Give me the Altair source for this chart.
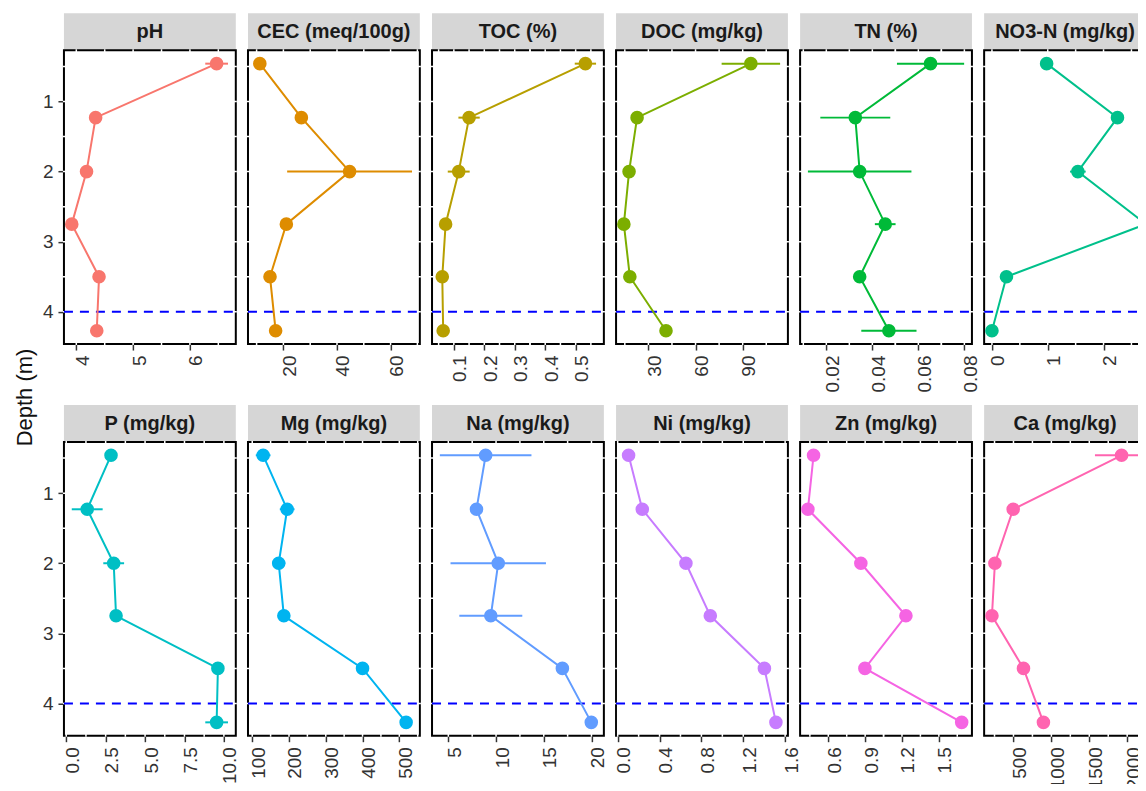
import altair as alt
import pandas as pd

# ---------------- data ----------------
DEPTH = [0.46, 1.23, 2.0, 2.75, 3.5, 4.27]
THRESHOLD_DEPTH = [4.0]
Y_TICKS = [1, 2, 3, 4]

NAMES = ["pH", "CEC (meq/100g)", "TOC (%)", "DOC (mg/kg)", "TN (%)", "NO3-N (mg/kg)",
         "P (mg/kg)", "Mg (mg/kg)", "Na (mg/kg)", "Ni (mg/kg)", "Zn (mg/kg)", "Ca (mg/kg)"]
COLORS = ["#F8766D", "#DE8C00", "#B79F00", "#7CAE00", "#00BA38", "#00C08B",
          "#00BFC4", "#00B4F0", "#619CFF", "#C77CFF", "#F564E3", "#FF64B0"]

PH_MEAN = [6.47, 4.34, 4.18, 3.92, 4.40, 4.36]
PH_SD = [0.20, 0, 0, 0, 0, 0]
PH_TICKS = [4, 5, 6]

CEC_MEAN = [11.2, 26.7, 44.7, 21.1, 15.0, 17.1]
CEC_SD = [1.5, 0, 23.3, 0, 0, 0]
CEC_TICKS = [20, 40, 60]

TOC_MEAN = [0.532, 0.150, 0.116, 0.073, 0.062, 0.065]
TOC_SD = [0.035, 0.035, 0.036, 0, 0.008, 0]
TOC_TICKS = [0.1, 0.2, 0.3, 0.4, 0.5]

DOC_MEAN = [95.2, 22.8, 17.7, 14.4, 18.2, 41.2]
DOC_SD = [18.6, 0, 0, 0, 0, 0]
DOC_TICKS = [30, 60, 90]

TN_MEAN = [0.0653, 0.0326, 0.0345, 0.0456, 0.0345, 0.0472]
TN_SD = [0.0146, 0.0152, 0.0225, 0.0045, 0, 0.012]
TN_TICKS = [0.02, 0.04, 0.06, 0.08]

NO3_MEAN = [0.98, 2.25, 1.54, 2.76, 0.26, 0.0]
NO3_SD = [0, 0, 0.14, 0.04, 0, 0]
NO3_TICKS = [0, 1, 2, 3]

P_MEAN = [2.84, 1.33, 3.01, 3.16, 9.62, 9.54]
P_SD = [0, 0.98, 0.66, 0, 0, 0.72]
P_TICKS = [0, 2.5, 5, 7.5, 10]

MG_MEAN = [129.7, 195, 172, 186, 400, 518.6]
MG_SD = [20, 20, 18, 0, 0, 16]
MG_TICKS = [100, 200, 300, 400, 500]

NA_MEAN = [8.91, 7.95, 10.23, 9.45, 16.95, 19.98]
NA_SD = [4.8, 0, 5.0, 3.3, 0, 0.5]
NA_TICKS = [5, 10, 15, 20]

NI_MEAN = [0.104, 0.235, 0.652, 0.885, 1.402, 1.512]
NI_SD = [0.045, 0, 0, 0, 0, 0.04]
NI_TICKS = [0.0, 0.4, 0.8, 1.2, 1.6]

ZN_MEAN = [0.480, 0.434, 0.865, 1.232, 0.898, 1.686]
ZN_SD = [0.03, 0, 0, 0, 0, 0.02]
ZN_TICKS = [0.6, 0.9, 1.2, 1.5]

CA_MEAN = [1926, 496, 255, 216, 632, 895]
CA_SD = [351, 0, 0, 0, 0, 0]
CA_TICKS = [500, 1000, 1500, 2000]

PANELS = [
    (PH_MEAN, PH_SD, PH_TICKS, "d"),
    (CEC_MEAN, CEC_SD, CEC_TICKS, "d"),
    (TOC_MEAN, TOC_SD, TOC_TICKS, ".1f"),
    (DOC_MEAN, DOC_SD, DOC_TICKS, "d"),
    (TN_MEAN, TN_SD, TN_TICKS, ".2f"),
    (NO3_MEAN, NO3_SD, NO3_TICKS, "d"),
    (P_MEAN, P_SD, P_TICKS, ".1f"),
    (MG_MEAN, MG_SD, MG_TICKS, "d"),
    (NA_MEAN, NA_SD, NA_TICKS, "d"),
    (NI_MEAN, NI_SD, NI_TICKS, ".1f"),
    (ZN_MEAN, ZN_SD, ZN_TICKS, ".1f"),
    (CA_MEAN, CA_SD, CA_TICKS, "d"),
]

# ---------------- layout / style ----------------
FONT = "Liberation Sans"
W = 172
STRIP_H = 37
PLOT_H = 294
H = STRIP_H + PLOT_H
TEXT_COL = "#333333"


def expand(lo, hi, f=0.05):
    p = (hi - lo) * f
    return [lo - p, hi + p]


def with_minor(ticks, dom):
    step = ticks[1] - ticks[0]
    cand = set(ticks)
    for t in ticks:
        cand.add(t + step / 2)
        cand.add(t - step / 2)
    return sorted(g for g in cand if dom[0] <= g <= dom[1])


YDOM = expand(min(DEPTH), max(DEPTH))
Y_GRID = with_minor(Y_TICKS, YDOM)


def panel(idx):
    means, sds, ticks, fmt = PANELS[idx]
    name = NAMES[idx]
    color = COLORS[idx]
    df = pd.DataFrame({
        "depth": DEPTH,
        "value": means,
        "lo": [m - s for m, s in zip(means, sds)],
        "hi": [m + s for m, s in zip(means, sds)],
    })
    xdom = expand(df["lo"].min(), df["hi"].max())
    major = [t for t in ticks if xdom[0] <= t <= xdom[1]]
    xgrid = with_minor(ticks, xdom)

    xs = alt.Scale(domain=xdom, nice=False, zero=False)
    ys = alt.Scale(domain=YDOM, range=[STRIP_H, H], nice=False, zero=False)
    xaxis = alt.Axis(values=major, format=fmt, title=None, grid=False, domain=False,
                     labelAngle=270, labelAlign="right", labelBaseline="middle",
                     labelOffset=6, labelPadding=5, labelFontSize=19, labelColor=TEXT_COL,
                     tickSize=6, tickWidth=1.5, tickColor=TEXT_COL)
    col = idx % 6
    if col == 0:
        if idx == 0:
            yaxis = alt.Axis(values=Y_TICKS, format="d", grid=False, domain=False,
                             labelFontSize=19, labelColor=TEXT_COL, labelPadding=5,
                             tickSize=6, tickWidth=1.5, tickColor=TEXT_COL,
                             title="Depth (m)", titleFontSize=22, titleFontWeight="normal",
                             titleColor="#111111", titleBaseline="alphabetic",
                             titleX=-32, titleY=384)
        else:
            yaxis = alt.Axis(values=Y_TICKS, format="d", grid=False, domain=False,
                             labelFontSize=19, labelColor=TEXT_COL, labelPadding=5,
                             tickSize=6, tickWidth=1.5, tickColor=TEXT_COL, title=None)
    else:
        yaxis = None

    def X(field):
        return alt.X(field, type="quantitative", scale=xs, axis=xaxis)

    def Y(field):
        if yaxis is None:
            return alt.Y(field, type="quantitative", scale=ys, axis=None)
        return alt.Y(field, type="quantitative", scale=ys, axis=yaxis)

    # the right-most column is cut by the page edge: keep its strip title in view
    text_dx = -5 if col == 5 else 0

    lab = pd.DataFrame({"label": [name]})
    strip = alt.Chart(lab).mark_rect(fill="#D6D6D6").encode(
        x=alt.value(0), x2=alt.value(W), y=alt.value(0), y2=alt.value(STRIP_H))
    strip_text = alt.Chart(lab).mark_text(
        fontSize=20, fontWeight="bold", color="#1A1A1A", align="center", baseline="middle",
        dx=text_dx
    ).encode(x=alt.value(W / 2), y=alt.value(19), text="label:N")
    border = alt.Chart(lab).mark_rect(fillOpacity=0, stroke="black", strokeWidth=2).encode(
        x=alt.value(0), x2=alt.value(W), y=alt.value(STRIP_H), y2=alt.value(H))
    vgrid = alt.Chart(pd.DataFrame({"g": xgrid})).mark_rule(color="white", strokeWidth=1.5).encode(
        x=X("g"), y=alt.value(STRIP_H - 1), y2=alt.value(H + 1))
    hgrid = alt.Chart(pd.DataFrame({"d": Y_GRID})).mark_rule(color="white", strokeWidth=1.5).encode(
        y=Y("d"), x=alt.value(-1), x2=alt.value(W + 1))
    hline = alt.Chart(pd.DataFrame({"d": THRESHOLD_DEPTH})).mark_rule(
        color="#0000FF", strokeDash=[9, 7], strokeWidth=2).encode(
        y=Y("d"), x=alt.value(0), x2=alt.value(W))
    err = alt.Chart(df).mark_rule(color=color, strokeWidth=2).encode(
        x=X("lo"), x2="hi:Q", y=Y("depth"))
    line = alt.Chart(df).mark_line(color=color, strokeWidth=2).encode(
        x=X("value"), y=Y("depth"), order="depth:Q")
    pts = alt.Chart(df).mark_circle(color=color, size=185, opacity=1).encode(
        x=X("value"), y=Y("depth"))
    return alt.layer(strip, strip_text, border, vgrid, hgrid, hline, err, line, pts).properties(
        width=W, height=H)


chart = alt.concat(
    *[panel(i) for i in range(12)],
    columns=6,
    spacing={"row": 61, "column": 12.2},
    bounds="flush",
).properties(
    padding={"left": 6, "top": 5, "right": -20, "bottom": -6}
).configure(font=FONT).configure_view(strokeWidth=0)

chart.save("out.html", embed_options={"renderer": "svg", "actions": False})
